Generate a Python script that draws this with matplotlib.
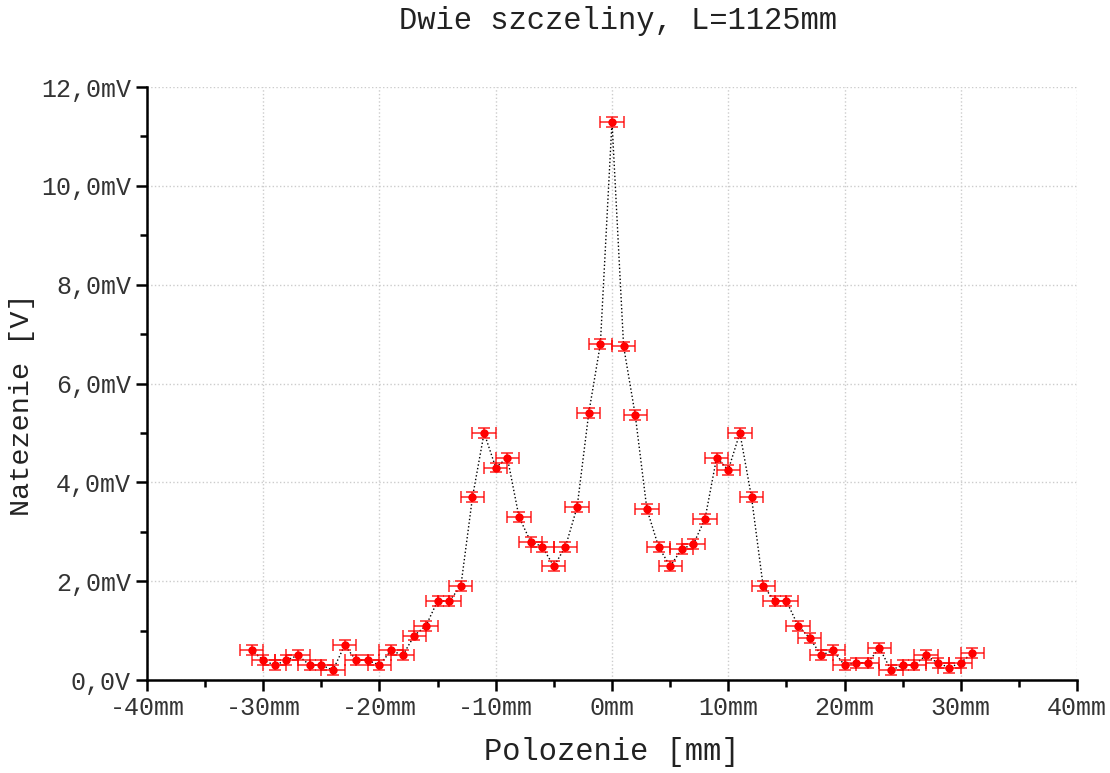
import matplotlib
matplotlib.use("Agg")
import matplotlib.pyplot as plt
from matplotlib.ticker import MultipleLocator, FuncFormatter

# pozycja detektora [mm] i natezenie [mV]
polozenie = list(range(-31, 32))
natezenie = [0.6, 0.4, 0.3, 0.4, 0.5, 0.3, 0.3, 0.2, 0.7, 0.4,
             0.4, 0.3, 0.6, 0.5, 0.9, 1.1, 1.6, 1.6, 1.9, 3.7,
             5.0, 4.3, 4.5, 3.3, 2.8, 2.7, 2.3, 2.7, 3.5, 5.4,
             6.8, 11.3, 6.75, 5.36, 3.46, 2.7, 2.3, 2.65, 2.75, 3.26,
             4.5, 4.25, 5.0, 3.7, 1.9, 1.6, 1.6, 1.1, 0.85, 0.5,
             0.6, 0.3, 0.35, 0.35, 0.65, 0.2, 0.3, 0.3, 0.5, 0.35,
             0.25, 0.35, 0.55]
blad_x = 1.0
blad_y = 0.1

plt.rcParams['font.family'] = ['Liberation Mono', 'DejaVu Sans Mono']

fig = plt.figure(figsize=(11.1, 7.73), dpi=100)
ax = fig.add_axes([0.1324, 0.1203, 0.8379, 0.7671])

ax.plot(polozenie, natezenie, color='black', linestyle=':', linewidth=1.0, zorder=2)
ax.errorbar(polozenie, natezenie, xerr=blad_x, yerr=blad_y, fmt='none',
            ecolor='red', elinewidth=1.2, capsize=4, capthick=1.2, alpha=0.8, zorder=3)
ax.plot(polozenie, natezenie, 'o', color='red', markersize=5, zorder=4)

ax.set_xlim(-40, 40)
ax.set_ylim(0, 12)
ax.xaxis.set_major_locator(MultipleLocator(10))
ax.xaxis.set_minor_locator(MultipleLocator(5))
ax.yaxis.set_major_locator(MultipleLocator(2))
ax.yaxis.set_minor_locator(MultipleLocator(1))

ax.xaxis.set_major_formatter(FuncFormatter(lambda v, p: f"{int(round(v))}mm"))
ax.yaxis.set_major_formatter(FuncFormatter(
    lambda v, p: "0,0V" if abs(v) < 1e-9 else f"{v:.1f}mV".replace('.', ',')))

ax.grid(True, which='major', color='#cccccc', linestyle=':', linewidth=1.0)
ax.set_axisbelow(True)

for s in ['top', 'right']:
    ax.spines[s].set_visible(False)
for s in ['left', 'bottom']:
    ax.spines[s].set_linewidth(1.8)

ax.tick_params(which='major', direction='out', length=8, width=1.8, labelsize=18)
ax.tick_params(which='minor', direction='out', length=5, width=1.8)
for lab in ax.get_xticklabels() + ax.get_yticklabels():
    lab.set_color('#333333')

ax.set_title("Dwie szczeliny, L=1125mm", fontsize=22, pad=42, color='#222222', x=0.5065)
ax.set_xlabel("Polozenie [mm]", fontsize=22, labelpad=12, color='#222222')
ax.set_ylabel("Natezenie [V]", fontsize=20.5, color='#222222', va='center')
ax.yaxis.set_label_coords(-0.134, 0.464)

fig.savefig("out.png", dpi=100)
